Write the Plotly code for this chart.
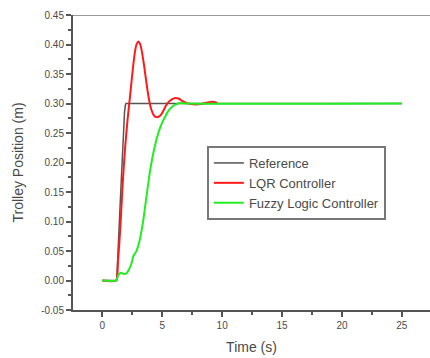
import plotly.graph_objects as go

# Time (s) and trolley position (m) for each response
ref_t = [0, 1.2, 1.5, 1.75, 1.85, 1.92, 1.97, 25]
ref_y = [0, 0, 0.135, 0.25, 0.285, 0.297, 0.300, 0.300]

lqr_t = [0, 1.15, 1.3, 1.5, 1.7, 1.9, 2.1, 2.3, 2.5, 2.7, 2.85, 3.0, 3.15, 3.3,
         3.5, 3.7, 3.9, 4.1, 4.3, 4.5, 4.7, 4.9, 5.1, 5.3, 5.5, 5.8, 6.1, 6.4,
         6.7, 7.0, 7.4, 7.8, 8.2, 8.6, 9.2, 9.6]
lqr_y = [0, 0, 0.03, 0.09, 0.165, 0.225, 0.272, 0.31, 0.35, 0.385, 0.400, 0.405,
         0.401, 0.388, 0.362, 0.332, 0.306, 0.289, 0.280, 0.277, 0.2775, 0.281,
         0.288, 0.296, 0.302, 0.307, 0.3095, 0.308, 0.304, 0.301, 0.299, 0.2985,
         0.299, 0.301, 0.303, 0.301]

flc_t = [0, 1.15, 1.35, 1.55, 1.8, 2.0, 2.25, 2.45, 2.6, 2.8, 3.1, 3.4, 3.7, 4.0,
         4.35, 4.7, 5.0, 5.25, 5.5, 5.8, 6.1, 6.5, 7.0, 25]
flc_y = [0, 0, 0.010, 0.013, 0.011, 0.012, 0.020, 0.030, 0.042, 0.048, 0.067,
         0.100, 0.145, 0.188, 0.225, 0.252, 0.268, 0.278, 0.287, 0.294, 0.298,
         0.301, 0.300, 0.300]

x_ticks = [0, 5, 10, 15, 20, 25]
y_ticks = [-0.05, 0.00, 0.05, 0.10, 0.15, 0.20, 0.25, 0.30, 0.35, 0.40, 0.45]

font_family = "Liberation Sans, Arial, sans-serif"
text_color = "#4a4a4a"

fig = go.Figure()
fig.add_trace(go.Scatter(x=ref_t, y=ref_y, mode="lines", name="Reference",
                         line=dict(color="#555555", width=1.5)))
fig.add_trace(go.Scatter(x=lqr_t, y=lqr_y, mode="lines", name="LQR Controller",
                         line=dict(color="#ff1a1a", width=2, shape="spline", smoothing=0.6)))
fig.add_trace(go.Scatter(x=flc_t, y=flc_y, mode="lines", name="Fuzzy Logic Controller",
                         line=dict(color="#22ee22", width=2, shape="spline", smoothing=0.5)))

# top frame line
fig.add_shape(type="line", xref="paper", yref="y", x0=0, x1=1, y0=0.45, y1=0.45,
              line=dict(color="#9a9a9a", width=2))

fig.update_layout(
    width=430, height=358,
    margin=dict(l=73, r=0, t=15, b=48),
    paper_bgcolor="white", plot_bgcolor="white",
    font=dict(family=font_family, color=text_color, size=10),
    showlegend=True,
    legend=dict(x=0.375, y=0.556, xanchor="left", yanchor="top",
                bgcolor="white", bordercolor="#777777", borderwidth=2,
                font=dict(size=13, color=text_color), tracegroupgap=0,
                itemwidth=30),
    xaxis=dict(range=[-2.45, 27.35], tickvals=x_ticks, ticktext=[str(v) for v in x_ticks],
               ticks="outside", ticklen=5, tickwidth=2, tickcolor="#555555",
               showline=True, linecolor="#555555", linewidth=2, showgrid=False,
               zeroline=False,
               minor=dict(dtick=2.5, tick0=0, ticks="outside", ticklen=3, tickwidth=2,
                          tickcolor="#555555", showgrid=False),
               title=dict(text="Time (s)", font=dict(size=14, color=text_color), standoff=12)),
    yaxis=dict(range=[-0.05, 0.45], tickvals=y_ticks,
               ticktext=[f"{v:.2f}" for v in y_ticks],
               ticks="outside", ticklen=5, tickwidth=2, tickcolor="#555555",
               showline=True, linecolor="#555555", linewidth=2, showgrid=False,
               zeroline=False,
               minor=dict(dtick=0.025, tick0=0, ticks="outside", ticklen=3, tickwidth=2,
                          tickcolor="#555555", showgrid=False),
               title=dict(text="Trolley Position (m)", font=dict(size=14, color=text_color),
                          standoff=14)),
)

fig.write_html("out.html")
